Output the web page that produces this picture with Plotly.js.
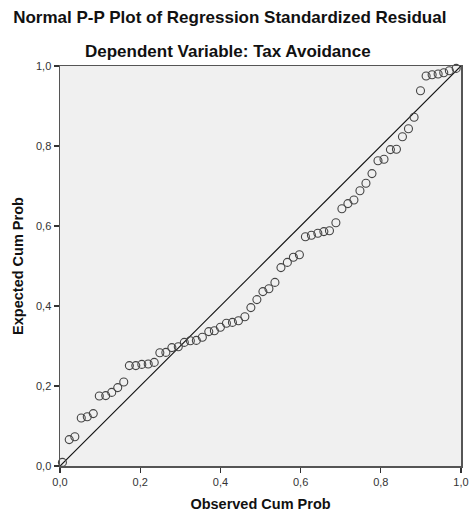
<!DOCTYPE html>
<html>
<head>
<meta charset="utf-8">
<script src="https://cdn.plot.ly/plotly-3.0.1.min.js"></script>
<style>html,body{margin:0;padding:0;background:#fff;}#chart{width:469px;height:514px;}</style>
</head>
<body>
<div id="chart"></div>
<script>
var observedCumProb = [0.006,0.023,0.037,0.053,0.068,0.083,0.098,0.114,0.129,0.144,0.159,0.173,0.189,0.204,0.220,0.235,0.249,0.264,0.279,0.295,0.310,0.325,0.340,0.355,0.371,0.385,0.400,0.415,0.430,0.445,0.461,0.476,0.491,0.506,0.521,0.536,0.551,0.567,0.582,0.597,0.612,0.627,0.643,0.658,0.672,0.688,0.703,0.718,0.733,0.748,0.763,0.778,0.793,0.808,0.824,0.839,0.854,0.869,0.883,0.899,0.913,0.928,0.943,0.957,0.971,0.988];
var expectedCumProb = [0.009,0.066,0.073,0.120,0.123,0.131,0.175,0.176,0.184,0.196,0.210,0.251,0.251,0.254,0.255,0.259,0.283,0.284,0.296,0.298,0.309,0.313,0.314,0.322,0.336,0.338,0.347,0.357,0.359,0.363,0.373,0.396,0.416,0.436,0.443,0.459,0.496,0.509,0.522,0.528,0.573,0.577,0.582,0.586,0.588,0.608,0.643,0.656,0.665,0.688,0.707,0.731,0.763,0.767,0.791,0.792,0.823,0.843,0.872,0.938,0.975,0.978,0.980,0.983,0.988,0.994];
var refLineX = [0, 1];
var refLineY = [0, 1];
var tickVals = [0, 0.2, 0.4, 0.6, 0.8, 1.0];
var tickLabels = ["0,0", "0,2", "0,4", "0,6", "0,8", "1,0"];

var FONT = "Arial, 'Liberation Sans', sans-serif";

var traces = [
  {
    x: refLineX, y: refLineY, mode: "lines", type: "scatter",
    line: {color: "#111", width: 1.2}, hoverinfo: "skip", showlegend: false
  },
  {
    x: observedCumProb, y: expectedCumProb, mode: "markers", type: "scatter",
    marker: {symbol: "circle-open", size: 8, color: "#444", line: {width: 1.1, color: "#444"}},
    cliponaxis: false, showlegend: false
  }
];

var axisCommon = {
  range: [0, 1],
  tickmode: "array",
  tickvals: tickVals,
  ticktext: tickLabels,
  ticks: "outside",
  ticklen: 5,
  tickwidth: 1.2,
  tickcolor: "#333",
  showgrid: false,
  zeroline: false,
  showline: true,
  linecolor: "#555",
  linewidth: 1.5,
  mirror: true,
  tickfont: {family: FONT, size: 11, color: "#333"},
  fixedrange: true
};

var layout = {
  width: 469, height: 514,
  margin: {l: 60, r: 8, t: 66, b: 48},
  paper_bgcolor: "#ffffff",
  plot_bgcolor: "#f0f0f0",
  showlegend: false,
  title: {
    text: "<b>Normal P-P Plot of Regression Standardized Residual</b>",
    font: {family: FONT, size: 17, color: "#111"},
    x: 0.49, xanchor: "center", y: 0.966, yanchor: "middle"
  },
  annotations: [
    {
      text: "<b>Dependent Variable: Tax Avoidance</b>",
      xref: "paper", yref: "paper", x: 0.42, y: 1.0, yanchor: "bottom", yshift: 3,
      xanchor: "center", showarrow: false,
      font: {family: FONT, size: 17, color: "#111"}
    }
  ],
  xaxis: Object.assign({}, axisCommon, {
    title: {text: "<b>Observed Cum Prob</b>", font: {family: FONT, size: 14.5, color: "#111"}, standoff: 12}
  }),
  yaxis: Object.assign({}, axisCommon, {
    title: {text: "<b>Expected Cum Prob</b>", font: {family: FONT, size: 14.5, color: "#111"}, standoff: 9}
  })
};

Plotly.newPlot("chart", traces, layout, {displayModeBar: false, staticPlot: true});
</script>
</body>
</html>
